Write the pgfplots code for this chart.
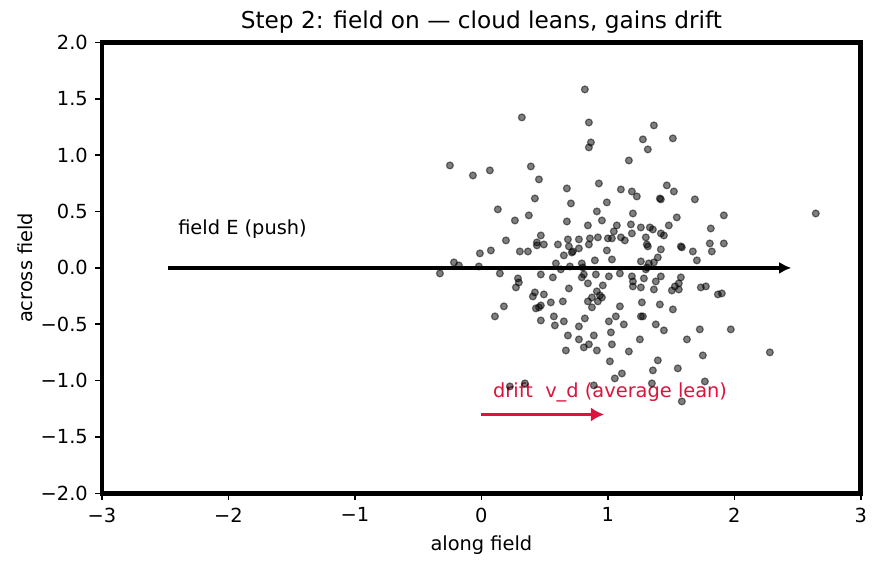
\documentclass[border=0pt]{standalone}
\usepackage{pgfplots}
\pgfplotsset{compat=1.18}
\usepackage{fontspec}
\setmainfont{DejaVu Sans}
\usetikzlibrary{arrows.meta}
\definecolor{crim}{RGB}{220,20,60}
\pgfplotstableread{
x y
0.818 1.583
0.320 1.335
0.850 1.290
1.364 1.264
1.514 1.149
1.277 1.140
0.866 1.113
0.850 1.069
1.316 1.051
1.166 0.953
-0.249 0.909
0.391 0.900
0.067 0.865
-0.067 0.820
0.455 0.785
0.929 0.749
1.466 0.732
0.676 0.705
1.103 0.696
1.190 0.678
1.522 0.678
1.229 0.634
0.423 0.616
1.411 0.616
1.419 0.608
1.688 0.608
0.992 0.581
0.708 0.572
0.130 0.519
0.913 0.501
1.198 0.483
2.644 0.483
0.375 0.466
1.545 0.448
1.917 0.466
0.265 0.421
0.676 0.412
0.953 0.421
0.842 0.377
1.071 0.377
1.182 0.386
1.261 0.359
1.332 0.359
1.356 0.341
1.482 0.377
1.814 0.350
1.047 0.324
1.419 0.306
1.443 0.288
1.190 0.306
0.470 0.288
0.194 0.244
0.684 0.253
0.771 0.253
0.858 0.262
0.921 0.271
1.000 0.262
1.032 0.262
1.103 0.271
1.134 0.244
1.300 0.271
1.806 0.217
1.917 0.217
0.439 0.226
0.494 0.208
0.439 0.200
0.605 0.208
0.692 0.191
0.715 0.137
0.723 0.146
0.771 0.173
0.850 0.208
0.652 0.111
0.992 0.155
1.032 0.075
1.316 0.191
1.308 0.208
1.419 0.164
1.577 0.191
1.585 0.182
1.672 0.146
1.822 0.146
1.704 0.067
1.364 0.049
1.324 0.040
1.261 0.058
1.395 0.093
-0.012 0.129
0.075 0.155
0.304 0.146
0.368 0.146
-0.217 0.049
-0.178 0.022
-0.020 0.013
0.589 0.040
0.794 0.040
0.802 0.004
0.700 0.013
0.628 -0.013
0.897 0.067
1.300 -0.013
1.308 0.004
-0.328 -0.049
0.146 -0.049
0.289 -0.093
0.296 -0.129
0.273 -0.173
0.470 -0.058
0.565 -0.084
0.810 -0.058
0.794 -0.084
0.905 -0.058
1.008 -0.075
1.095 -0.049
1.190 -0.075
1.198 -0.120
1.198 -0.164
1.285 -0.093
1.379 -0.120
1.419 -0.075
0.842 -0.137
0.960 -0.155
1.261 -0.173
1.364 -0.191
1.506 -0.200
1.530 -0.164
1.561 -0.137
1.561 -0.191
1.577 -0.084
1.735 -0.173
1.775 -0.164
1.870 -0.235
1.901 -0.226
0.692 -0.182
0.913 -0.208
0.937 -0.244
0.953 -0.262
0.874 -0.262
0.842 -0.297
0.921 -0.297
0.874 -0.350
0.644 -0.297
0.549 -0.306
1.095 -0.341
1.269 -0.306
1.411 -0.324
1.514 -0.368
0.423 -0.217
0.407 -0.253
0.494 -0.235
0.470 -0.333
0.455 -0.350
0.431 -0.359
0.178 -0.341
0.107 -0.430
0.470 -0.466
0.573 -0.430
0.581 -0.510
1.063 -0.430
1.261 -0.430
1.277 -0.430
0.818 -0.448
1.008 -0.474
1.126 -0.501
1.379 -0.501
0.652 -0.474
0.771 -0.519
1.443 -0.554
1.024 -0.572
0.684 -0.599
0.889 -0.599
0.771 -0.634
1.253 -0.634
1.625 -0.634
0.850 -0.678
0.810 -0.705
1.032 -0.678
0.668 -0.732
0.913 -0.732
1.166 -0.741
1.395 -0.820
1.016 -0.829
1.111 -0.936
1.055 -0.980
1.356 -0.909
1.553 -0.891
1.348 -1.024
0.889 -1.042
1.585 -1.184
1.727 -0.545
1.972 -0.545
1.751 -0.776
2.281 -0.749
1.767 -1.007
0.225 -1.051
0.344 -1.024
}\cloud
\begin{document}
\begin{tikzpicture}
\begin{axis}[
  scale only axis,
  width=375.7pt, height=223.3pt,
  xmin=-3, xmax=3, ymin=-2, ymax=2,
  axis line style={line width=2.4pt},
  tick align=outside, tick pos=left,
  major tick length=3.5pt,
  every tick/.style={black, line width=0.8pt},
  xtick={-3,-2,-1,0,1,2,3},
  xticklabels={−3,−2,−1,0,1,2,3},
  ytick={-2,-1.5,-1,-0.5,0,0.5,1,1.5,2},
  yticklabels={−2.0,−1.5,−1.0,−0.5,0.0,0.5,1.0,1.5,2.0},
  tick label style={font=\fontsize{9.6}{11.5}\selectfont},
  xlabel={along field}, ylabel={across field},
  label style={font=\fontsize{9.6}{11.5}\selectfont},
  ylabel style={yshift=-3pt},
  title={Step 2: field on — cloud leans, gains drift},
  title style={font=\fontsize{11.5}{14}\selectfont, yshift=-5pt},
  clip=false,
]
\addplot[only marks, mark=*, mark size=1.7pt,
  mark options={fill=black, draw=black, fill opacity=0.5, draw opacity=0.5, line width=0.6pt}]
  table[x=x, y=y] {\cloud};
\addplot[black, line width=1.75pt, -{Latex[length=6pt,width=6pt]}] coordinates {(-2.48,0) (2.45,0)};
\addplot[crim, line width=1.5pt, -{Latex[length=6.5pt,width=7pt]}] coordinates {(0,-1.3) (0.97,-1.3)};
\node[anchor=west, inner sep=0pt, font=\fontsize{9.6}{11.5}\selectfont] at (axis cs:-2.40,0.34) {field E (push)};
\node[anchor=west, inner sep=0pt, text=crim, font=\fontsize{9.6}{11.5}\selectfont] at (axis cs:0.09,-1.10) {drift\ \ v\_d (average lean)};
\end{axis}
\pgfresetboundingbox
\path[use as bounding box] ([xshift=-50.5pt,yshift=-37pt]current axis.south west) rectangle ([xshift=10pt,yshift=21pt]current axis.north east);
\end{tikzpicture}
\end{document}
